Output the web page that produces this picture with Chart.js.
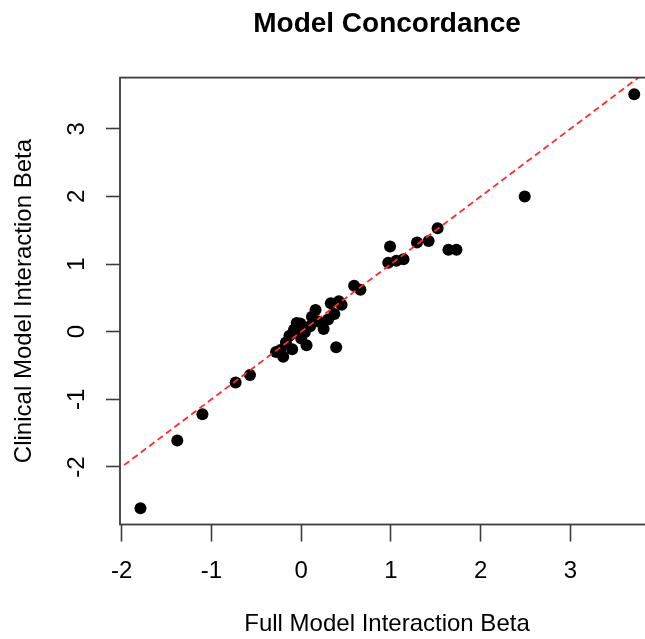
<!DOCTYPE html>
<html><head><meta charset="utf-8">
<script src="https://cdn.jsdelivr.net/npm/chart.js@4"></script>
<style>
html,body{margin:0;padding:0;background:#fff;overflow:hidden;}
#wrap{width:645px;height:639px;overflow:hidden;position:relative;background:#fff;}
canvas{display:block;}
</style></head><body>
<div id="wrap"><canvas id="c" width="700" height="639" style="width:700px;height:639px"></canvas></div>
<script>
const fullBeta     = [-1.79, -1.38, -1.10, -0.73, -0.57, -0.28, -0.23, -0.20, -0.17, -0.13, -0.10, -0.08, -0.05, -0.01, 0.00, 0.04, 0.06, 0.10, 0.12, 0.16, 0.19, 0.25, 0.30, 0.33, 0.37, 0.42, 0.45, 0.39, 0.59, 0.66, 0.99, 0.97, 1.06, 1.14, 1.29, 1.42, 1.52, 1.64, 1.73, 2.49, 3.71];
const clinicalBeta = [-2.61, -1.61, -1.22, -0.75, -0.64, -0.30, -0.27, -0.37, -0.16, -0.06, -0.26, 0.03, 0.13, 0.12, -0.10, -0.01, -0.20, 0.08, 0.22, 0.32, 0.15, 0.04, 0.18, 0.42, 0.26, 0.45, 0.40, -0.23, 0.68, 0.62, 1.26, 1.02, 1.05, 1.07, 1.32, 1.34, 1.53, 1.21, 1.21, 2.00, 3.51];
const xTicks = [-2, -1, 0, 1, 2, 3];
const yTicks = [-2, -1, 0, 1, 2, 3];
const refLine = [-3, 5]; // identity line y = x
const titleText = 'Model Concordance';
const xLabel = 'Full Model Interaction Beta';
const yLabel = 'Clinical Model Interaction Beta';

const FONT = 'Liberation Sans, Arial, Helvetica, sans-serif';
const AXIS = '#3c3c3c';

const boxPlugin = {
  id: 'box',
  afterDatasetsDraw(chart) {
    const {ctx, chartArea: a} = chart;
    ctx.save();
    ctx.strokeStyle = AXIS;
    ctx.lineWidth = 1.8;
    ctx.strokeRect(a.left, a.top, a.right - a.left, a.bottom - a.top);
    ctx.restore();
  }
};

new Chart(document.getElementById('c'), {
  type: 'scatter',
  data: {
    datasets: [
      {
        type: 'line',
        data: refLine.map(v => ({x: v, y: v})),
        borderColor: '#ff2a2a',
        borderWidth: 1.8,
        borderDash: [6.5, 4],
        pointRadius: 0,
        fill: false,
        clip: 0
      },
      {
        data: fullBeta.map((x, i) => ({x: x, y: clinicalBeta[i]})),
        backgroundColor: '#000',
        borderColor: '#000',
        borderWidth: 0,
        pointRadius: 6,
        pointHoverRadius: 6,
        clip: false
      }
    ]
  },
  options: {
    responsive: false,
    animation: false,
    devicePixelRatio: 1,
    layout: {padding: {left: 0, right: 46, top: 0, bottom: 0}},
    plugins: {
      legend: {display: false},
      tooltip: {enabled: false},
      title: {
        display: true, fullSize: false, text: titleText, color: '#000',
        font: {family: FONT, size: 28, weight: 'bold', lineHeight: 1.2},
        padding: {top: 7, bottom: 37}
      }
    },
    scales: {
      x: {
        type: 'linear', position: 'bottom', min: -2.018, max: 3.93,
        afterBuildTicks: a => { a.ticks = xTicks.map(v => ({value: v})); },
        afterFit: s => { s.height = 114.5; },
        grid: {display: true, drawOnChartArea: false, drawTicks: true, tickLength: 17, tickWidth: 1.6, tickColor: AXIS},
        border: {display: false},
        ticks: {font: {family: FONT, size: 24}, color: '#000', padding: 15, maxRotation: 0, minRotation: 0, autoSkip: false},
        title: {display: true, text: xLabel, color: '#000', font: {family: FONT, size: 24, lineHeight: 1.2}, padding: {top: 0, bottom: 0}}
      },
      y: {
        type: 'linear', position: 'left', min: -2.85, max: 3.756,
        afterBuildTicks: a => { a.ticks = yTicks.map(v => ({value: v})); },
        afterFit: s => { s.width = 120; },
        grid: {display: true, drawOnChartArea: false, drawTicks: true, tickLength: 14, tickWidth: 1.6, tickColor: AXIS},
        border: {display: false},
        ticks: {font: {family: FONT, size: 24}, color: '#000', padding: 18, minRotation: 90, maxRotation: 90, crossAlign: 'center', autoSkip: false},
        title: {display: true, text: yLabel, color: '#000', font: {family: FONT, size: 24, lineHeight: 1.2}, padding: {top: 9.6, bottom: 0}}
      }
    }
  },
  plugins: [boxPlugin]
});
</script>
</body></html>
